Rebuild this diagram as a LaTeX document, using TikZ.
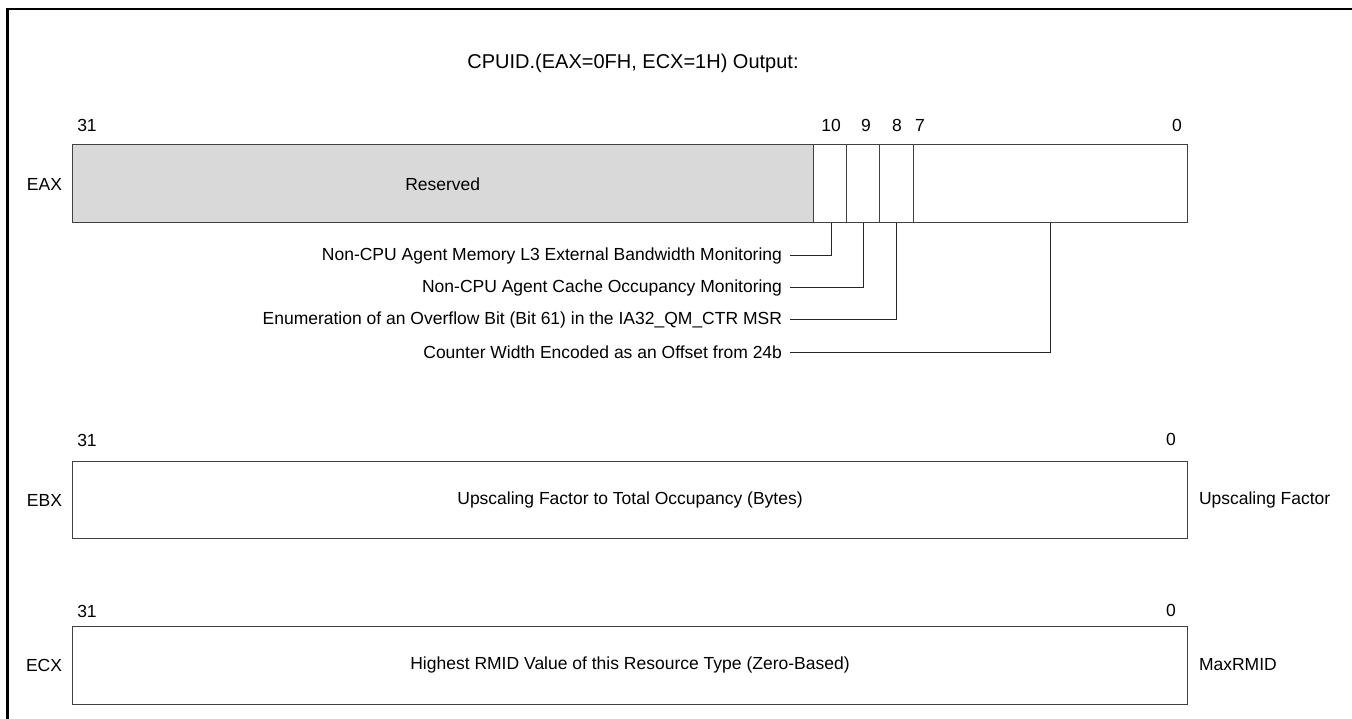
\documentclass[tikz,border=0pt]{standalone}
\usepackage{fontspec}
\setmainfont{Liberation Sans}
\begin{document}
\begin{tikzpicture}[x=1pt,y=-1pt,
  every node/.style={font=\fontsize{17.5}{20}\selectfont, inner sep=0pt, outer sep=0pt},
  field/.style={draw=black!75, line width=1pt, rectangle, anchor=north west},
  resfield/.style={field, fill=black!15},
  bitnum/.style={anchor=center},
  reglabel/.style={anchor=east},
  sidelabel/.style={anchor=west},
  leadtext/.style={anchor=east, inner xsep=8pt},
  leader/.style={draw=black!85, line width=1pt},
  frame/.style={line width=2.5pt, black}
]
\useasboundingbox (0,0) rectangle (1352,719);
% frame (left and top edges)
\draw[frame] (7.5,719) -- (7.5,8.8) -- (1352,8.8);

% title
\node[font=\fontsize{20}{23}\selectfont] (title) at (633,63) {CPUID.(EAX=0FH, ECX=1H) Output:};

% ---------- EAX ----------
\node[bitnum] (eax31) at (87,125) {31};
\node[bitnum] (eax10) at (831,125) {10};
\node[bitnum] (eax9) at (866,125) {9};
\node[bitnum] (eax8) at (897,125) {8};
\node[bitnum] (eax7) at (920,125) {7};
\node[bitnum] (eax0) at (1177,125) {0};

\node[resfield, minimum width=740.5pt, minimum height=78.5pt] (res) at (72.5,144.5) {};
\node at (res.center) {Reserved};
\node[field, minimum width=33pt, minimum height=78.5pt] (b10) at (813,144.5) {};
\node[field, minimum width=33.5pt, minimum height=78.5pt] (b9) at (846,144.5) {};
\node[field, minimum width=34pt, minimum height=78.5pt] (b8) at (879.5,144.5) {};
\node[field, minimum width=273.5pt, minimum height=78.5pt] (blow) at (913.5,144.5) {};
\node[reglabel] (eaxl) at (62,184) {EAX};

\node[leadtext] (l1) at (790,255.5) {Non-CPU Agent Memory L3 External Bandwidth Monitoring};
\node[leadtext] (l2) at (790,288) {Non-CPU Agent Cache Occupancy Monitoring};
\node[leadtext] (l3) at (790,320) {Enumeration of an Overflow Bit (Bit 61) in the IA32\_QM\_CTR MSR};
\node[leadtext] (l4) at (790,352.5) {Counter Width Encoded as an Offset from 24b};

\draw[leader] (l1.east) -| ([xshift=1.5pt]b10.south);
\draw[leader] (l2.east) -| ([xshift=1pt]b9.south);
\draw[leader] (l3.east) -| (b8.south);
\draw[leader] (l4.east) -| (blow.south);

% ---------- EBX ----------
\node[bitnum] (ebx31) at (87,440) {31};
\node[bitnum] (ebx0) at (1171,439) {0};
\node[field, minimum width=1115pt, minimum height=77.5pt] (ebx) at (72.5,461) {};
\node at (ebx.center) {Upscaling Factor to Total Occupancy (Bytes)};
\node[reglabel] (ebxl) at (62,500) {EBX};
\node[sidelabel] (ebxs) at (1199,500) {Upscaling Factor};

% ---------- ECX ----------
\node[bitnum] (ecx31) at (87,611) {31};
\node[bitnum] (ecx0) at (1171,610) {0};
\node[field, minimum width=1115pt, minimum height=78pt] (ecx) at (72.5,626) {};
\node at (ecx.center) {Highest RMID Value of this Resource Type (Zero-Based)};
\node[reglabel] (ecxl) at (62,665) {ECX};
\node[sidelabel] (ecxs) at (1199,665) {MaxRMID};
\end{tikzpicture}
\end{document}
